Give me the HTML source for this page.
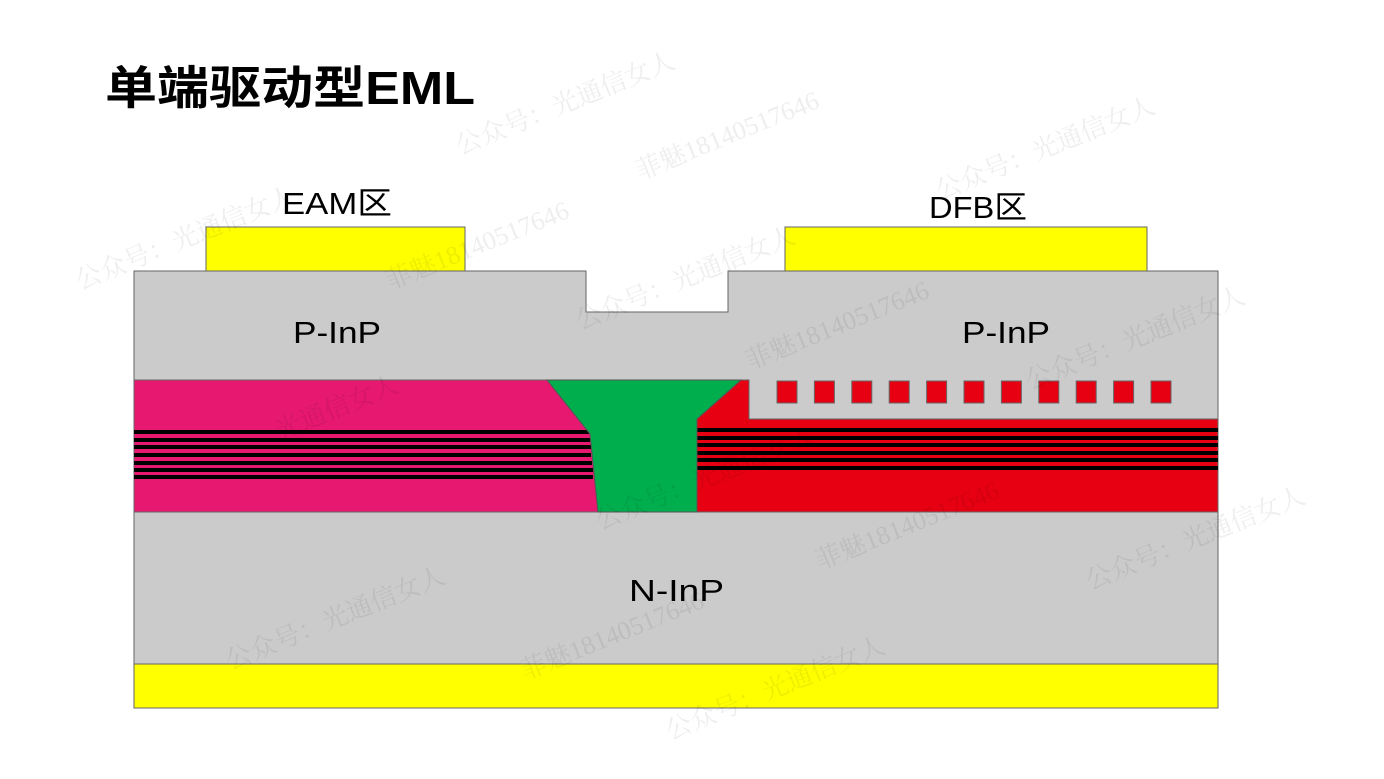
<!DOCTYPE html>
<html><head><meta charset="utf-8"><style>
html,body{margin:0;padding:0;background:#fff;}
svg{display:block}
</style></head><body>
<svg width="1384" height="779" viewBox="0 0 1384 779" xmlns="http://www.w3.org/2000/svg">
<rect width="1384" height="779" fill="#fff"/>
<text x="105" y="104" font-family="Liberation Sans, Noto Sans CJK SC, sans-serif" font-size="46" font-weight="bold" fill="#000" textLength="370" lengthAdjust="spacingAndGlyphs">单端驱动型EML</text>
<!-- top pads -->
<rect x="206" y="227" width="259" height="45" fill="#ffff00" stroke="#666" stroke-width="1"/>
<rect x="785" y="227" width="362" height="45" fill="#ffff00" stroke="#666" stroke-width="1"/>
<!-- P-InP -->
<path d="M134,271 L586,271 L586,312 L728,312 L728,271 L1218,271 L1218,419 L134,419 Z" fill="#cbcbcb" stroke="#666" stroke-width="1"/>
<!-- N-InP -->
<rect x="134" y="512" width="1084" height="152" fill="#cbcbcb" stroke="#666" stroke-width="1"/>
<!-- bottom pad -->
<rect x="134" y="664" width="1084" height="44" fill="#ffff00" stroke="#666" stroke-width="1"/>
<!-- pink EAM -->
<path d="M134,380 L547,380 L590,434 L598,512 L134,512 Z" fill="#e6186f" stroke="#666" stroke-width="1"/>
<g fill="#000">
<rect x="134" y="430" width="455" height="4"/>
<rect x="134" y="438" width="456" height="4"/>
<rect x="134" y="445" width="457" height="4"/>
<rect x="134" y="453" width="457" height="4"/>
<rect x="134" y="461" width="458" height="4"/>
<rect x="134" y="468" width="459" height="4"/>
<rect x="134" y="475" width="459" height="4"/>
</g>
<!-- red DFB -->
<path d="M697,419 L741,380 L749,380 L749,419 L1218,419 L1218,512 L697,512 Z" fill="#e60012" stroke="#666" stroke-width="1"/>
<g fill="#000">
<rect x="697" y="428" width="521" height="4"/>
<rect x="697" y="436" width="521" height="4"/>
<rect x="697" y="443" width="521" height="4"/>
<rect x="697" y="451" width="521" height="4"/>
<rect x="697" y="458" width="521" height="4"/>
<rect x="697" y="466" width="521" height="4"/>
</g>
<!-- green -->
<path d="M547,380 L741,380 L697,419 L697,512 L598,512 L590,434 Z" fill="#00ae4d" stroke="#555" stroke-width="1"/>
<!-- grating -->
<g fill="#e60012" stroke="#666" stroke-width="1">
<rect x="777" y="381" width="20" height="22"/>
<rect x="814.4" y="381" width="20" height="22"/>
<rect x="851.8" y="381" width="20" height="22"/>
<rect x="889.2" y="381" width="20" height="22"/>
<rect x="926.6" y="381" width="20" height="22"/>
<rect x="964" y="381" width="20" height="22"/>
<rect x="1001.4" y="381" width="20" height="22"/>
<rect x="1038.8" y="381" width="20" height="22"/>
<rect x="1076.2" y="381" width="20" height="22"/>
<rect x="1113.6" y="381" width="20" height="22"/>
<rect x="1151" y="381" width="20" height="22"/>
</g>
<g font-family="Liberation Sans, Noto Sans CJK SC, sans-serif" font-size="31" fill="#000">
<text x="282" y="214" textLength="110" lengthAdjust="spacingAndGlyphs">EAM区</text>
<text x="929" y="218" textLength="98" lengthAdjust="spacingAndGlyphs">DFB区</text>
<text x="293" y="343" textLength="88" lengthAdjust="spacingAndGlyphs">P-InP</text>
<text x="962" y="343" textLength="88" lengthAdjust="spacingAndGlyphs">P-InP</text>
<text x="629" y="601" textLength="95" lengthAdjust="spacingAndGlyphs">N-InP</text>
</g>
<!-- watermarks -->
<g font-family="Liberation Serif, Noto Serif CJK SC, serif" font-size="26" fill="#000" opacity="0.07">
<text transform="translate(460,155) rotate(-22)">公众号：光通信女人</text>
<text transform="translate(640,180) rotate(-22)">菲魅18140517646</text>
<text transform="translate(940,200) rotate(-22)">公众号：光通信女人</text>
<text transform="translate(80,290) rotate(-22)">公众号：光通信女人</text>
<text transform="translate(390,290) rotate(-22)">菲魅18140517646</text>
<text transform="translate(580,330) rotate(-22)">公众号：光通信女人</text>
<text transform="translate(750,370) rotate(-22)">菲魅18140517646</text>
<text transform="translate(1030,390) rotate(-22)">公众号：光通信女人</text>
<text transform="translate(280,440) rotate(-22)">光通信女人</text>
<text transform="translate(600,530) rotate(-22)">公众号：光通信女人</text>
<text transform="translate(820,570) rotate(-22)">菲魅18140517646</text>
<text transform="translate(1090,590) rotate(-22)">公众号：光通信女人</text>
<text transform="translate(230,670) rotate(-22)">公众号：光通信女人</text>
<text transform="translate(525,680) rotate(-22)">菲魅18140517646</text>
<text transform="translate(670,740) rotate(-22)">公众号：光通信女人</text>
</g>
</svg>
</body></html>
